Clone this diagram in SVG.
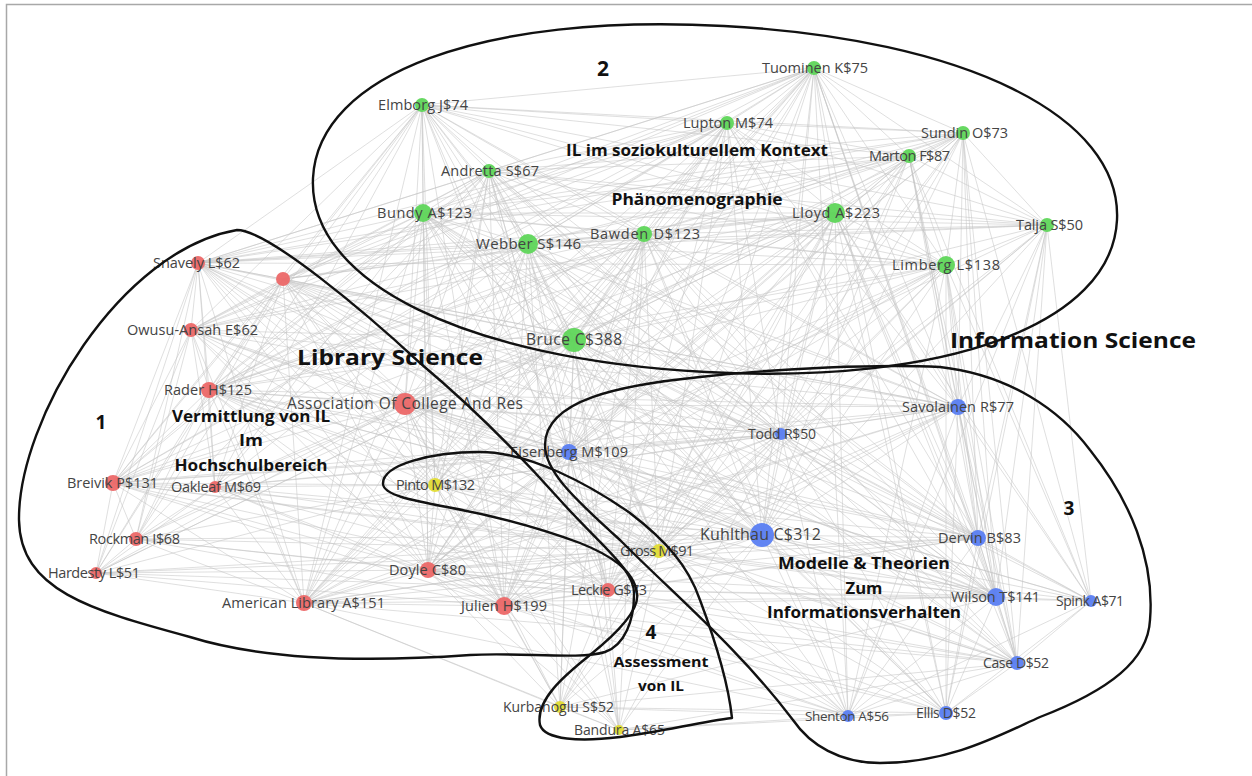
<svg xmlns="http://www.w3.org/2000/svg" width="1252" height="776" viewBox="0 0 1252 776">
<style>
.e{fill:none;stroke:#c4c4c4;stroke-width:1;stroke-opacity:0.55}
.h{fill:none;stroke:#111;stroke-width:2.4;stroke-linejoin:round}
.g{fill:#5fd65a}
.r{fill:#ec6868}
.b{fill:#5a7ef2}
.y{fill:#e2dc34}
.n circle{stroke:none;opacity:0.95}
.lb{font-family:"Open Sans","DejaVu Sans",sans-serif;font-size:14.5px;fill:#444;text-anchor:middle}
.an{font-family:"Open Sans","DejaVu Sans",sans-serif;font-weight:bold;fill:#111;text-anchor:middle}
</style>
<rect x="0" y="0" width="1252" height="776" fill="#fff"/>
<path d="M6.5 776V4.5H1252" fill="none" stroke="#a8a8a8" stroke-width="1.5"/>
<g id="connectors">
<path class="e" d="M422 105L574 340L814 68M727 123L574 340L963 133M909 156L574 340L489 171M423 213L574 340L835 213M528 244L574 340L644 234M1047 225L574 340L946 265M198 263L574 340L283 279M191 330L574 340L209 390M405 404L574 340L113 483M215 487L574 340L136 539M96 573L574 340L428 570M304 603L574 340L504 606M608 590L574 340L435 485M659 551L574 340L560 707M619 730L574 340L569 452M781 434L574 340L958 407M762 535L574 340L978 538M996 597L574 340L1091 601M1017 663L574 340L848 716M946 713L574 340"/>
<path class="e" d="M422 105L762 535L814 68M727 123L762 535L963 133M909 156L762 535L489 171M423 213L762 535L835 213M528 244L762 535L644 234M1047 225L762 535L946 265M198 263L762 535L283 279M191 330L762 535L209 390M405 404L762 535L113 483M215 487L762 535L136 539M96 573L762 535L428 570M304 603L762 535L504 606M608 590L762 535L435 485M659 551L762 535L560 707M619 730L762 535L569 452M781 434L762 535L958 407M978 538L762 535L996 597M1091 601L762 535L1017 663M848 716L762 535L946 713"/>
<path class="e" d="M422 105L835 213L814 68M727 123L835 213L963 133M909 156L835 213L489 171M423 213L835 213L528 244M644 234L835 213L1047 225M946 265L835 213L198 263M283 279L835 213L191 330M209 390L835 213L405 404M113 483L835 213L96 573M428 570L835 213L304 603M504 606L835 213L608 590M435 485L835 213L659 551M560 707L835 213L569 452M781 434L835 213L958 407M978 538L835 213L996 597M1091 601L835 213L1017 663M848 716L835 213L946 713"/>
<path class="e" d="M422 105L504 606L814 68M727 123L504 606L909 156M489 171L504 606L423 213M528 244L504 606L644 234M946 265L504 606L198 263M283 279L504 606L191 330M209 390L504 606L405 404M113 483L504 606L215 487M136 539L504 606L96 573M428 570L504 606L304 603M608 590L504 606L435 485M659 551L504 606L560 707M619 730L504 606L569 452M781 434L504 606L958 407M978 538L504 606L996 597M1017 663L504 606L848 716M946 713L504 606"/>
<path class="e" d="M422 105L405 404L814 68M727 123L405 404L963 133M489 171L405 404L423 213M528 244L405 404L644 234M946 265L405 404L198 263M283 279L405 404L191 330M209 390L405 404L113 483M215 487L405 404L136 539M96 573L405 404L428 570M304 603L405 404L608 590M435 485L405 404L659 551M560 707L405 404L619 730M569 452L405 404L781 434M958 407L405 404L978 538M996 597L405 404L1091 601M848 716L405 404"/>
<path class="e" d="M422 105L528 244L814 68M727 123L528 244L963 133M909 156L528 244L489 171M423 213L528 244L644 234M1047 225L528 244L946 265M198 263L528 244L283 279M191 330L528 244L209 390M113 483L528 244L215 487M428 570L528 244L304 603M608 590L528 244L435 485M659 551L528 244L560 707M569 452L528 244L781 434M958 407L528 244L978 538M996 597L528 244L1017 663M946 713L528 244"/>
<path class="e" d="M422 105L946 265L814 68M727 123L946 265L963 133M909 156L946 265L489 171M423 213L946 265L644 234M1047 225L946 265L198 263M304 603L946 265L435 485M659 551L946 265L569 452M781 434L946 265L958 407M978 538L946 265L996 597M1091 601L946 265L1017 663M848 716L946 265L946 713M209 390L946 265L428 570"/>
<path class="e" d="M422 105L644 234L814 68M727 123L644 234L963 133M909 156L644 234L489 171M423 213L644 234L1047 225M198 263L644 234L283 279M191 330L644 234L209 390M113 483L644 234L428 570M304 603L644 234L608 590M435 485L644 234L659 551M560 707L644 234L619 730M569 452L644 234L781 434M958 407L644 234L978 538M996 597L644 234L1017 663M848 716L644 234"/>
<path class="e" d="M814 68L996 597L727 123M963 133L996 597L909 156M489 171L996 597L423 213M1047 225L996 597L198 263M283 279L996 597L209 390M113 483L996 597L428 570M304 603L996 597L608 590M435 485L996 597L659 551M560 707L996 597L569 452M781 434L996 597L958 407M978 538L996 597L1091 601M1017 663L996 597L848 716M946 713L996 597"/>
<path class="e" d="M422 105L304 603L814 68M727 123L304 603L489 171M423 213L304 603L198 263M283 279L304 603L191 330M209 390L304 603L113 483M215 487L304 603L136 539M96 573L304 603L428 570M608 590L304 603L435 485M659 551L304 603L560 707M619 730L304 603L569 452M781 434L304 603L958 407M978 538L304 603L1017 663M848 716L304 603"/>
<path class="e" d="M422 105L423 213L814 68M727 123L423 213L963 133M909 156L423 213L489 171M1047 225L423 213L198 263M283 279L423 213L191 330M209 390L423 213L113 483M215 487L423 213L428 570M608 590L423 213L435 485M659 551L423 213L569 452M781 434L423 213L958 407M978 538L423 213L1017 663M946 713L423 213"/>
<path class="e" d="M422 105L569 452L814 68M727 123L569 452L963 133M909 156L569 452L489 171M1047 225L569 452L198 263M283 279L569 452L191 330M209 390L569 452L113 483M215 487L569 452L428 570M608 590L569 452L435 485M659 551L569 452L560 707M619 730L569 452L781 434M958 407L569 452L978 538M1091 601L569 452L1017 663M848 716L569 452L946 713"/>
<path class="e" d="M422 105L435 485L814 68M727 123L435 485L489 171M198 263L435 485L283 279M191 330L435 485L209 390M113 483L435 485L215 487M136 539L435 485L96 573M428 570L435 485L608 590M659 551L435 485L560 707M619 730L435 485L781 434M958 407L435 485L978 538M1017 663L435 485"/>
<path class="e" d="M422 105L814 68L727 123M963 133L814 68L909 156M489 171L814 68L1047 225M198 263L814 68L283 279M191 330L814 68L209 390M659 551L814 68L781 434M958 407L814 68L978 538M1017 663L814 68L848 716M946 713L814 68L428 570M608 590L814 68"/>
<path class="e" d="M727 123L422 105L963 133M909 156L422 105L489 171M1047 225L422 105L198 263M283 279L422 105L191 330M209 390L422 105L113 483M215 487L422 105L136 539M428 570L422 105L608 590M659 551L422 105L781 434M958 407L422 105L978 538"/>
<path class="e" d="M283 279L198 263L191 330M209 390L198 263L113 483M215 487L198 263L136 539M96 573L198 263L428 570M608 590L198 263L727 123M963 133L198 263L909 156M489 171L198 263L1047 225M781 434L198 263L958 407M659 551L198 263"/>
<path class="e" d="M963 133L1047 225L909 156M727 123L1047 225L489 171M958 407L1047 225L978 538M1091 601L1047 225L1017 663M848 716L1047 225L946 713M781 434L1047 225L608 590M659 551L1047 225"/>
<path class="e" d="M978 538L958 407L1091 601M1017 663L958 407L848 716M946 713L958 407L781 434M963 133L958 407L909 156M727 123L958 407L283 279M191 330L958 407L209 390M113 483L958 407L659 551M428 570L958 407L608 590"/>
<path class="e" d="M283 279L209 390L191 330M113 483L209 390L215 487M136 539L209 390L96 573M428 570L209 390L608 590M489 171L209 390L727 123M963 133L209 390L909 156M781 434L209 390L978 538M1017 663L209 390L659 551"/>
<path class="e" d="M283 279L113 483L191 330M215 487L113 483L136 539M96 573L113 483L428 570M608 590L113 483L489 171M727 123L113 483L781 434M659 551L113 483"/>
<path class="e" d="M1091 601L978 538L1017 663M848 716L978 538L946 713M781 434L978 538L963 133M909 156L978 538L727 123M489 171L978 538L608 590M659 551L978 538L428 570M283 279L978 538"/>
<path class="e" d="M283 279L191 330L215 487M136 539L191 330L96 573M428 570L191 330L489 171M727 123L191 330L659 551M781 434L191 330"/>
<path class="e" d="M283 279L215 487L136 539M96 573L215 487L428 570M608 590L215 487L489 171M659 551L215 487L781 434"/>
<path class="e" d="M96 573L136 539L428 570M608 590L136 539L283 279M489 171L136 539L659 551"/>
<path class="e" d="M428 570L96 573L608 590M283 279L96 573L659 551"/>
<path class="e" d="M608 590L428 570L659 551M560 707L428 570L619 730M781 434L428 570L1017 663M848 716L428 570L946 713M727 123L428 570L963 133M909 156L428 570L489 171M283 279L428 570"/>
<path class="e" d="M659 551L608 590L560 707M619 730L608 590L781 434M1091 601L608 590L1017 663M848 716L608 590L946 713M727 123L608 590L963 133M909 156L608 590L489 171M283 279L608 590"/>
<path class="e" d="M560 707L659 551L619 730M781 434L659 551L1091 601M1017 663L659 551L848 716M946 713L659 551L727 123M963 133L659 551L909 156M489 171L659 551L283 279"/>
<path class="e" d="M619 730L560 707L781 434M1017 663L560 707L848 716M946 713L560 707"/>
<path class="e" d="M781 434L619 730L1017 663M848 716L619 730L946 713M489 171L619 730"/>
<path class="e" d="M1091 601L781 434L1017 663M848 716L781 434L946 713M727 123L781 434L963 133M909 156L781 434L489 171M283 279L781 434"/>
<path class="e" d="M1017 663L1091 601L848 716M946 713L1091 601L963 133M909 156L1091 601"/>
<path class="e" d="M848 716L1017 663L946 713M963 133L1017 663L909 156M848 716L946 713"/>
<path class="e" d="M963 133L727 123L909 156M489 171L727 123L283 279M963 133L489 171L909 156M283 279L489 171M963 133L909 156"/>
</g>
<g id="node-elmborg" class="n"><circle class="g" cx="422" cy="105" r="7"/><text class="lb" x="423" y="110" textLength="90">Elmborg J$74</text></g>
<g id="node-tuominen" class="n"><circle class="g" cx="814" cy="68" r="7"/><text class="lb" x="815" y="73" textLength="106">Tuominen K$75</text></g>
<g id="node-lupton" class="n"><circle class="g" cx="727" cy="123" r="7"/><text class="lb" x="728" y="128" textLength="90">Lupton M$74</text></g>
<g id="node-sundin" class="n"><circle class="g" cx="963" cy="133" r="7"/><text class="lb" x="964.5" y="138" textLength="87">Sundin O$73</text></g>
<g id="node-marton" class="n"><circle class="g" cx="909" cy="156" r="7"/><text class="lb" x="909.5" y="161" textLength="81">Marton F$87</text></g>
<g id="node-andretta" class="n"><circle class="g" cx="489" cy="171" r="7"/><text class="lb" x="490" y="176" textLength="98">Andretta S$67</text></g>
<g id="node-bundy" class="n"><circle class="g" cx="423" cy="213" r="9"/><text class="lb" x="424.5" y="218" textLength="95">Bundy A$123</text></g>
<g id="node-lloyd" class="n"><circle class="g" cx="835" cy="213" r="10"/><text class="lb" x="836" y="218" textLength="88">Lloyd A$223</text></g>
<g id="node-webber" class="n"><circle class="g" cx="528" cy="244" r="10"/><text class="lb" x="528.5" y="249" textLength="105" style="font-size:15px">Webber S$146</text></g>
<g id="node-bawden" class="n"><circle class="g" cx="644" cy="234" r="8"/><text class="lb" x="645" y="239" textLength="110">Bawden D$123</text></g>
<g id="node-talja" class="n"><circle class="g" cx="1047" cy="225" r="7"/><text class="lb" x="1049.5" y="230" textLength="67">Talja S$50</text></g>
<g id="node-limberg" class="n"><circle class="g" cx="946" cy="265" r="9"/><text class="lb" x="946" y="270" textLength="108">Limberg L$138</text></g>
<g id="node-bruce" class="n"><circle class="g" cx="574" cy="340" r="12"/><text class="lb" x="574" y="345" textLength="96" style="font-size:15.5px">Bruce C$388</text></g>
<g id="node-snavely" class="n"><circle class="r" cx="198" cy="263" r="7"/><text class="lb" x="196.5" y="268" textLength="87">Snavely L$62</text></g>
<g id="node-unlabeled" class="n"><circle class="r" cx="283" cy="279" r="7"/></g>
<g id="node-owusu" class="n"><circle class="r" cx="191" cy="330" r="7"/><text class="lb" x="192.5" y="335" textLength="131">Owusu-Ansah E$62</text></g>
<g id="node-rader" class="n"><circle class="r" cx="209" cy="390" r="8"/><text class="lb" x="208" y="395" textLength="88">Rader H$125</text></g>
<g id="node-acrl" class="n"><circle class="r" cx="405" cy="404" r="11"/><text class="lb" x="405" y="409" textLength="236" style="font-size:15.5px">Association Of College And Res</text></g>
<g id="node-breivik" class="n"><circle class="r" cx="113" cy="483" r="8"/><text class="lb" x="112.5" y="488" textLength="91">Breivik P$131</text></g>
<g id="node-oakleaf" class="n"><circle class="r" cx="215" cy="487" r="6"/><text class="lb" x="216" y="492" textLength="90">Oakleaf M$69</text></g>
<g id="node-rockman" class="n"><circle class="r" cx="136" cy="539" r="7"/><text class="lb" x="134.5" y="544" textLength="91">Rockman I$68</text></g>
<g id="node-hardesty" class="n"><circle class="r" cx="96" cy="573" r="6"/><text class="lb" x="94" y="578" textLength="92">Hardesty L$51</text></g>
<g id="node-doyle" class="n"><circle class="r" cx="428" cy="570" r="8"/><text class="lb" x="427.5" y="575" textLength="77">Doyle C$80</text></g>
<g id="node-ala" class="n"><circle class="r" cx="304" cy="603" r="8"/><text class="lb" x="303.5" y="608" textLength="163">American Library A$151</text></g>
<g id="node-julien" class="n"><circle class="r" cx="504" cy="606" r="9"/><text class="lb" x="504" y="611" textLength="86">Julien H$199</text></g>
<g id="node-leckie" class="n"><circle class="r" cx="608" cy="590" r="7"/><text class="lb" x="609" y="595" textLength="76">Leckie G$73</text></g>
<g id="node-pinto" class="n"><circle class="y" cx="435" cy="485" r="7"/><text class="lb" x="435.5" y="490" textLength="79">Pinto M$132</text></g>
<g id="node-gross" class="n"><circle class="y" cx="659" cy="551" r="7"/><text class="lb" x="657" y="556" textLength="74">Gross M$91</text></g>
<g id="node-kurbanoglu" class="n"><circle class="y" cx="560" cy="707" r="6"/><text class="lb" x="558.5" y="712" textLength="111" style="font-size:14px">Kurbanoglu S$52</text></g>
<g id="node-bandura" class="n"><circle class="y" cx="619" cy="730" r="5"/><text class="lb" x="619.5" y="735" textLength="91" style="font-size:14px">Bandura A$65</text></g>
<g id="node-eisenberg" class="n"><circle class="b" cx="569" cy="452" r="8"/><text class="lb" x="569" y="457" textLength="118">Eisenberg M$109</text></g>
<g id="node-todd" class="n"><circle class="b" cx="781" cy="434" r="6"/><text class="lb" x="782" y="439" textLength="68" style="font-size:14px">Todd R$50</text></g>
<g id="node-savolainen" class="n"><circle class="b" cx="958" cy="407" r="8"/><text class="lb" x="958" y="412" textLength="112">Savolainen R$77</text></g>
<g id="node-kuhlthau" class="n"><circle class="b" cx="762" cy="535" r="12"/><text class="lb" x="760.5" y="540" textLength="121" style="font-size:16px">Kuhlthau C$312</text></g>
<g id="node-dervin" class="n"><circle class="b" cx="978" cy="538" r="8"/><text class="lb" x="979.5" y="543" textLength="83">Dervin B$83</text></g>
<g id="node-wilson" class="n"><circle class="b" cx="996" cy="597" r="9"/><text class="lb" x="995.5" y="602" textLength="89">Wilson T$141</text></g>
<g id="node-spink" class="n"><circle class="b" cx="1091" cy="601" r="6"/><text class="lb" x="1090" y="606" textLength="68" style="font-size:14px">Spink A$71</text></g>
<g id="node-case" class="n"><circle class="b" cx="1017" cy="663" r="7"/><text class="lb" x="1016" y="668" textLength="66" style="font-size:14px">Case D$52</text></g>
<g id="node-shenton" class="n"><circle class="b" cx="848" cy="716" r="6"/><text class="lb" x="847" y="721" textLength="84" style="font-size:13.5px">Shenton A$56</text></g>
<g id="node-ellis" class="n"><circle class="b" cx="946" cy="713" r="7"/><text class="lb" x="946" y="718" textLength="60" style="font-size:14px">Ellis D$52</text></g>
<g id="hulls">
<path id="hull-2" class="h" d="M313 178C318 74 482 13 724 26C965 39 1122 116 1117 220C1112 324 947 385 706 372C465 359 308 282 313 178Z"/>
<path id="hull-1" class="h" d="M237 230C268 230 365 312 420 363C470 405 520 455 560 500C600 545 636 570 634 595C634 620 625 645 605 652C580 660 520 652 470 655C400 660 280 665 190 637C90 610 20 590 19 520C18 420 120 250 237 230Z"/>
<path id="hull-4" class="h" d="M383 484C382 465 430 452 480 452C530 452 590 485 630 513C665 540 688 565 700 600C715 640 728 680 732 718C700 722 660 732 620 737C580 742 545 740 540 725C535 700 565 675 590 655C615 635 640 610 637 593C634 570 610 555 580 543C540 528 490 515 447 507C410 500 384 495 383 484Z"/>
<path id="hull-3" class="h" d="M545 445C545 400 620 385 700 377C780 368 880 364 940 367C1010 375 1060 410 1090 450C1130 500 1155 560 1150 620C1148 660 1110 690 1040 717C1000 735 950 763 880 763C840 763 810 745 793 720C740 650 680 600 620 540C570 495 545 470 545 445Z"/>
</g>
<g id="annotations">
<text class="an" x="603" y="76" style="font-size:21px">2</text>
<text class="an" x="697" y="156" style="font-size:16px" textLength="262" lengthAdjust="spacingAndGlyphs">IL im soziokulturellem Kontext</text>
<text class="an" x="697" y="205" style="font-size:16px" textLength="171" lengthAdjust="spacingAndGlyphs">Phänomenographie</text>
<text class="an" x="390" y="365" style="font-size:22px" textLength="186" lengthAdjust="spacingAndGlyphs">Library Science</text>
<text class="an" x="1073" y="348" style="font-size:22px" textLength="246" lengthAdjust="spacingAndGlyphs">Information Science</text>
<text class="an" x="101" y="429" style="font-size:19px">1</text>
<text class="an" x="251" y="422" style="font-size:15.5px" textLength="158" lengthAdjust="spacingAndGlyphs">Vermittlung von IL</text>
<text class="an" x="251" y="446" style="font-size:15.5px" textLength="24" lengthAdjust="spacingAndGlyphs">Im</text>
<text class="an" x="251" y="471" style="font-size:15.5px" textLength="153" lengthAdjust="spacingAndGlyphs">Hochschulbereich</text>
<text class="an" x="1069" y="515" style="font-size:19px">3</text>
<text class="an" x="864" y="569" style="font-size:16px" textLength="172" lengthAdjust="spacingAndGlyphs">Modelle &amp; Theorien</text>
<text class="an" x="864" y="594" style="font-size:16px" textLength="37" lengthAdjust="spacingAndGlyphs">Zum</text>
<text class="an" x="864" y="618" style="font-size:16px" textLength="194" lengthAdjust="spacingAndGlyphs">Informationsverhalten</text>
<text class="an" x="651" y="639" style="font-size:19px">4</text>
<text class="an" x="661" y="667" style="font-size:14.5px" textLength="95" lengthAdjust="spacingAndGlyphs">Assessment</text>
<text class="an" x="661" y="691" style="font-size:14.5px" textLength="46" lengthAdjust="spacingAndGlyphs">von IL</text>
</g>
</svg>
